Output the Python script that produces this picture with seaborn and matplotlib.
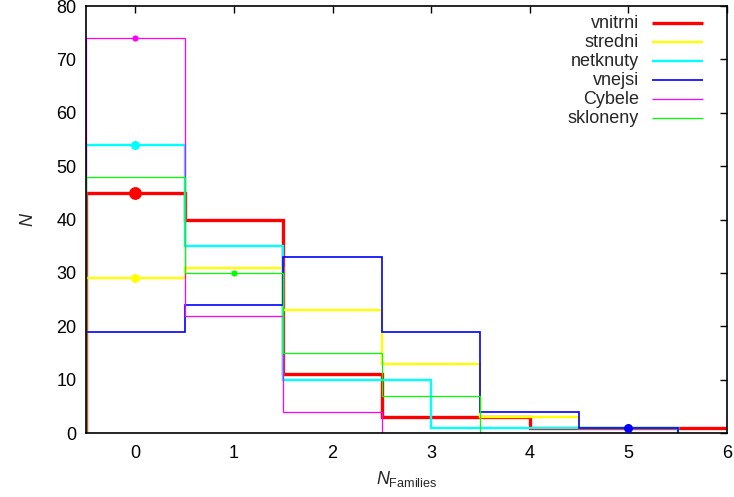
import numpy as np
import pandas as pd
import matplotlib
matplotlib.use("Agg")
import matplotlib.pyplot as plt
import seaborn as sns

# ---- data ----
series_names = ["vnitrni", "stredni", "netknuty", "vnejsi", "Cybele", "skloneny"]
vnitrni_x = [0, 1, 2, 3, 5, 6]
vnitrni_y = [45, 40, 11, 3, 1, 1]
stredni_x = [0, 1, 2, 3, 4, 5]
stredni_y = [29, 31, 23, 13, 3, 1]
netknuty_x = [0, 1, 2, 4, 5]
netknuty_y = [54, 35, 10, 1, 1]
vnejsi_x = [0, 1, 2, 3, 4, 5]
vnejsi_y = [19, 24, 33, 19, 4, 1]
cybele_x = [0, 1, 2]
cybele_y = [74, 22, 4]
skloneny_x = [0, 1, 2, 3]
skloneny_y = [48, 30, 15, 7]

# highlighted points
dot_x = [0, 0, 0, 5, 0, 1]
dot_y = [45, 29, 54, 1, 74, 30]

x_ticks = [0, 1, 2, 3, 4, 5, 6]
y_ticks = [0, 10, 20, 30, 40, 50, 60, 70, 80]

# ---- styles ----
colors = ["#ff0000", "#ffff00", "#00ffff", "#0000ff", "#ff00ff", "#00ff00"]
widths = [2.4, 1.7, 1.7, 1.2, 0.9, 0.9]
dot_sizes = [85, 42, 42, 42, 20, 20]

sns.set_style("white")
plt.rcParams['font.family'] = ['Liberation Sans', 'DejaVu Sans']
plt.rcParams['mathtext.fontset'] = 'custom'
plt.rcParams['mathtext.rm'] = 'Liberation Sans'
plt.rcParams['mathtext.it'] = 'Liberation Sans:italic'

FS = 13

fig = plt.figure(figsize=(7.34, 4.97), dpi=100)
ax = fig.add_axes([86/734, 1 - 433/497, (727 - 86)/734, (433 - 6)/497])

all_x = [vnitrni_x, stredni_x, netknuty_x, vnejsi_x, cybele_x, skloneny_x]
all_y = [vnitrni_y, stredni_y, netknuty_y, vnejsi_y, cybele_y, skloneny_y]

def histeps_edges(x):
    x = np.asarray(x, dtype=float)
    mids = (x[:-1] + x[1:]) / 2.0
    return np.concatenate([[x[0] - 0.5], mids, [x[-1] + 0.5]])

for xs, ys, c, lw in zip(all_x, all_y, colors, widths):
    ax.stairs(ys, histeps_edges(xs), baseline=0, fill=False, color=c, linewidth=lw)

dots = pd.DataFrame({"x": dot_x, "y": dot_y, "series": series_names})
for (_, row), c, s in zip(dots.iterrows(), colors, dot_sizes):
    sns.scatterplot(x=[row["x"]], y=[row["y"]], ax=ax, color=c, s=s,
                    edgecolor=c, linewidth=0, zorder=5, legend=False)

ax.set_xlim(-0.5, 6)
ax.set_ylim(0, 80)
ax.set_xticks(x_ticks)
ax.set_yticks(y_ticks)
ax.tick_params(direction='in', length=5, width=1, top=True, right=True,
               labelsize=FS, colors='black', pad=7)
ax.tick_params(axis='x', pad=9)
for sp in ax.spines.values():
    sp.set_color('black')
    sp.set_linewidth(1.2)
    sp.set_visible(True)

ax.set_xlabel(r'$N_{\mathrm{Families}}$', fontsize=FS, labelpad=5)
ax.set_ylabel(r'$N$', fontsize=FS, labelpad=14)

# legend (gnuplot style: right-aligned text, sample line on the right)
for i, (name, c, lw) in enumerate(zip(series_names, colors, widths)):
    yy = 1 - (23 - 6 + i * 19) / 427
    ax.text((639 - 86) / 641, yy, name, transform=ax.transAxes, ha='right',
            va='center', fontsize=FS)
    ax.plot([(652 - 86) / 641, (703 - 86) / 641], [yy, yy], color=c, lw=lw,
            transform=ax.transAxes, solid_capstyle='butt')

fig.savefig("out.png", dpi=100)
